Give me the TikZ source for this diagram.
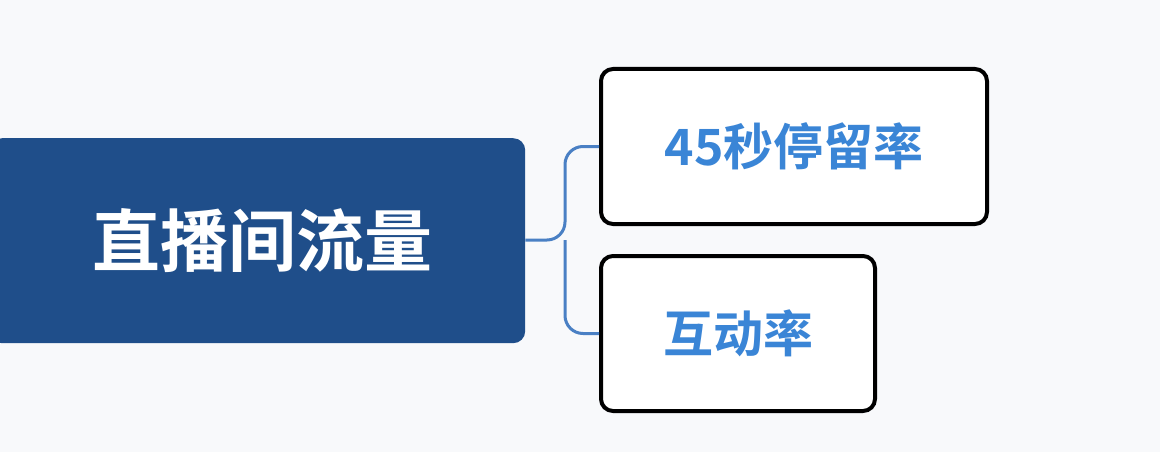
\documentclass[tikz,border=0pt]{standalone}
\usepackage{fontspec}
\newfontfamily\cjk{Noto Sans CJK SC Bold}
\definecolor{bg}{HTML}{F8F9FB}
\definecolor{main}{HTML}{1F4E8A}
\definecolor{txt}{HTML}{3A85D6}
\definecolor{line}{HTML}{4A80C4}
\begin{document}
\begin{tikzpicture}[x=1pt,y=-1pt,
  leaf/.style={draw=black,line width=4pt,fill=white,rounded corners=12pt,inner sep=0pt,text=txt,font=\cjk\fontsize{50}{50}\selectfont},
  conn/.style={draw=line,line width=3pt,rounded corners=18pt}]
\fill[bg] (0,0) rectangle (1160,452);
\useasboundingbox (0,0) rectangle (1160,452);
\node[fill=main,rounded corners=12pt,minimum width=535pt,minimum height=205pt,inner sep=0pt,anchor=north west,text=white,font=\cjk\fontsize{68}{68}\selectfont] (root) at (-10,138) {\hspace*{10pt}直播间流量};
\node[leaf,minimum width=386pt,minimum height=155pt] (a) at (794,146.5) {45秒停留率};
\node[leaf,minimum width=274pt,minimum height=155pt] (b) at (738,333.5) {互动率};
\coordinate (j) at (565,240);
\draw[conn] (root.east |- j) -- (j) |- (a.west);
\draw[conn] (j) |- (b.west);
\draw[line,line width=3pt] (0,240) -- (root.west |- j);
\end{tikzpicture}
\end{document}
